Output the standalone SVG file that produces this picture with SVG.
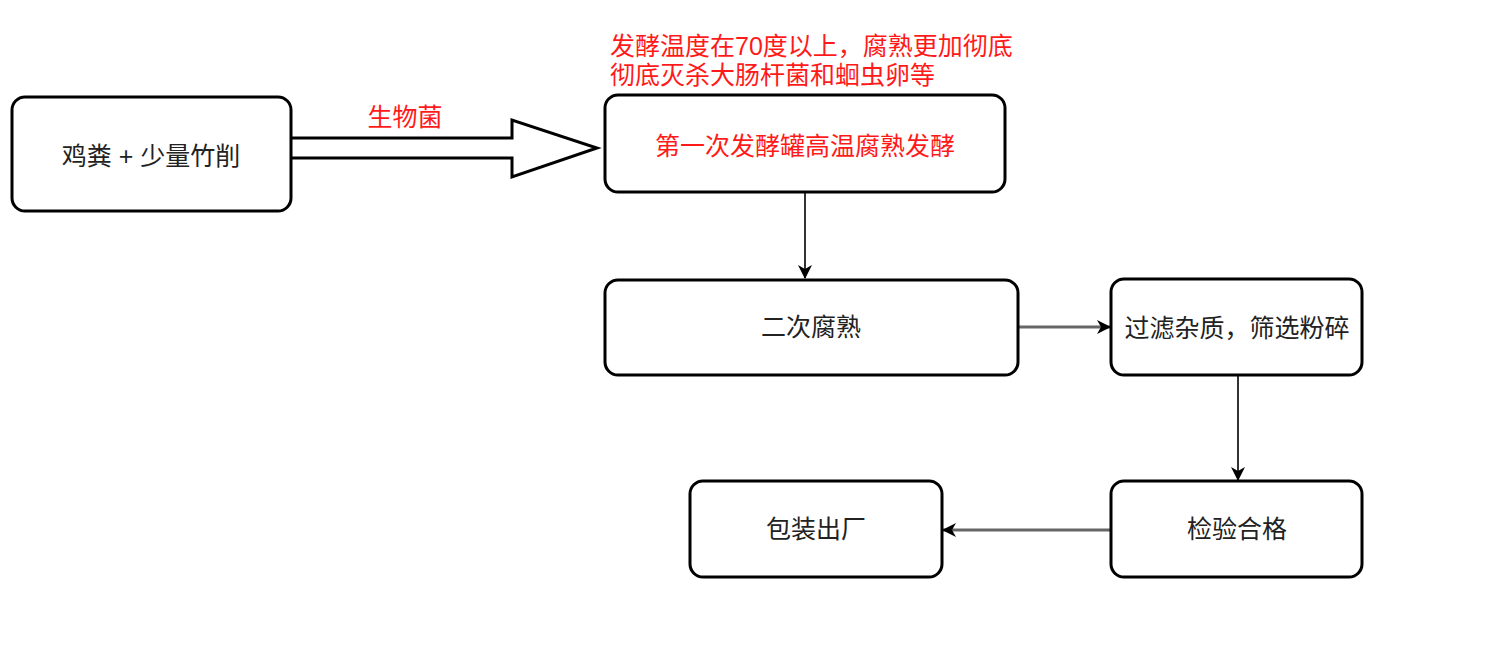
<svg xmlns="http://www.w3.org/2000/svg" width="1500" height="665" viewBox="0 0 1500 665">
<style>
.box{fill:#fff;stroke:#000;stroke-width:3}
.t{font-family:"Liberation Sans","Noto Sans CJK SC",sans-serif;font-size:25px;fill:#222;text-anchor:middle;dominant-baseline:central}
.r{fill:#ff1a1a}
.c{fill:none;stroke:#333;stroke-width:2}
.g{stroke:#666;stroke-width:3}
</style>
<defs>
<marker id="ah" viewBox="0 0 14 14" refX="13" refY="7" markerWidth="14" markerHeight="14" markerUnits="userSpaceOnUse" orient="auto">
<path d="M0,0 L14,7 L0,14 L4,7 Z" fill="#000"/>
</marker>
</defs>
<rect width="1500" height="665" fill="#fff"/>
<g id="connectors">
<path d="M291,138 H512 V120 L597,148 L512,177 V158 H291" fill="#fff" stroke="#000" stroke-width="3" stroke-linejoin="miter"/>
<text class="t r" x="405" y="117">生物菌</text>
<line class="c" x1="805" y1="192" x2="805" y2="278" marker-end="url(#ah)"/>
<line class="c g" x1="1018" y1="327" x2="1110" y2="327" marker-end="url(#ah)"/>
<line class="c" x1="1238" y1="375" x2="1238" y2="480" marker-end="url(#ah)"/>
<line class="c g" x1="1111" y1="530" x2="943" y2="530" marker-end="url(#ah)"/>
</g>
<g id="note">
<text class="t r" x="610" y="46" style="text-anchor:start">发酵温度在70度以上，腐熟更加彻底</text>
<text class="t r" x="610" y="75" style="text-anchor:start">彻底灭杀大肠杆菌和蛔虫卵等</text>
</g>
<g id="n1">
<rect class="box" x="12" y="97" width="279" height="114" rx="13"/>
<text class="t" x="151" y="156">鸡粪 + 少量竹削</text>
</g>
<g id="n2">
<rect class="box" x="605" y="95" width="400" height="97" rx="13"/>
<text class="t r" x="805" y="146">第一次发酵罐高温腐熟发酵</text>
</g>
<g id="n3">
<rect class="box" x="605" y="280" width="413" height="95" rx="13"/>
<text class="t" x="811" y="327">二次腐熟</text>
</g>
<g id="n4">
<rect class="box" x="1111" y="279" width="251" height="96" rx="13"/>
<text class="t" x="1237" y="328">过滤杂质，筛选粉碎</text>
</g>
<g id="n5">
<rect class="box" x="1111" y="481" width="251" height="96" rx="13"/>
<text class="t" x="1237" y="529">检验合格</text>
</g>
<g id="n6">
<rect class="box" x="690" y="481" width="252" height="96" rx="13"/>
<text class="t" x="816" y="529">包装出厂</text>
</g>
</svg>
